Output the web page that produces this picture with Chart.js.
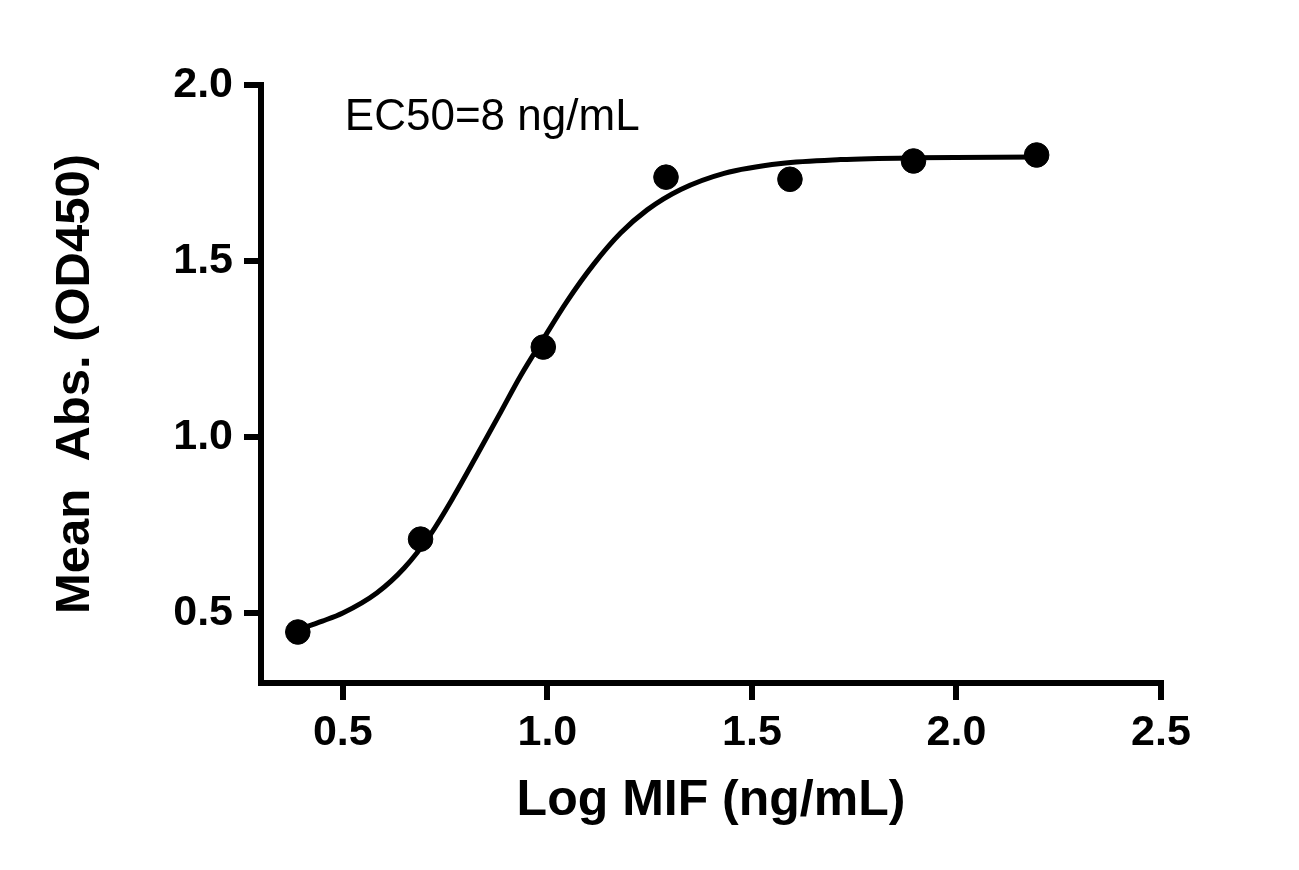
<!DOCTYPE html>
<html>
<head>
<meta charset="utf-8">
<script src="https://cdn.jsdelivr.net/npm/chart.js@4.4.1/dist/chart.umd.min.js"></script>
<style>
html,body{margin:0;padding:0;background:#fff;}
#wrap{width:1299px;height:870px;}
</style>
</head>
<body>
<div id="wrap"><canvas id="c" width="1299" height="870"></canvas></div>
<script>
// Measured data points: log concentration vs mean absorbance
const pointX = [0.39, 0.69, 0.99, 1.29, 1.593, 1.895, 2.196];
const pointY = [0.445, 0.709, 1.255, 1.738, 1.732, 1.784, 1.801];

// Fitted curve
const curveX = [0.39, 0.45, 0.50, 0.583, 0.65, 0.714, 0.771, 0.828, 0.885, 0.934, 0.99, 1.048, 1.113, 1.179, 1.244, 1.326, 1.432, 1.571, 1.717, 1.897, 2.199];
const curveY = [0.452, 0.476, 0.499, 0.556, 0.627, 0.722, 0.830, 0.948, 1.068, 1.172, 1.278, 1.385, 1.490, 1.579, 1.645, 1.703, 1.749, 1.777, 1.788, 1.793, 1.795];

const xTicks = [0.5, 1.0, 1.5, 2.0, 2.5];
const yTicks = [0.5, 1.0, 1.5, 2.0];

const xTitle = 'Log MIF (ng/mL)';
const yTitle = 'Mean  Abs. (OD450)';
const annotationText = 'EC50=8 ng/mL';
const annotationAt = [0.505, 1.872];

const FONT = '"Liberation Sans", Arial, Helvetica, sans-serif';

const annotationPlugin = {
  id: 'ec50text',
  afterDraw(chart) {
    const ctx = chart.ctx;
    const px = chart.scales.x.getPixelForValue(annotationAt[0]);
    const py = chart.scales.y.getPixelForValue(annotationAt[1]);
    ctx.save();
    ctx.font = '44px ' + FONT;
    ctx.fillStyle = '#000';
    ctx.textAlign = 'left';
    ctx.textBaseline = 'alphabetic';
    ctx.fillText(annotationText, px, py);
    ctx.restore();
  }
};

const axisCommon = {
  border: { display: true, color: '#000', width: 6 },
  grid: { drawOnChartArea: false, drawTicks: true, tickLength: 17, lineWidth: 6, color: '#000' }
};

new Chart(document.getElementById('c'), {
  type: 'scatter',
  data: {
    datasets: [
      {
        label: 'points',
        data: pointX.map((x, i) => ({ x: x, y: pointY[i] })),
        backgroundColor: '#000',
        borderColor: '#000',
        pointRadius: 12.3,
        pointHoverRadius: 12.3,
        showLine: false
      },
      {
        label: 'fit',
        type: 'line',
        data: curveX.map((x, i) => ({ x: x, y: curveY[i] })),
        borderColor: '#000',
        borderWidth: 5,
        pointRadius: 0,
        fill: false,
        cubicInterpolationMode: 'monotone'
      }
    ]
  },
  options: {
    responsive: false,
    animation: false,
    devicePixelRatio: 1,
    layout: { padding: { top: 85, right: 138, left: 0, bottom: 0 } },
    plugins: { legend: { display: false }, tooltip: { enabled: false } },
    scales: {
      x: {
        type: 'linear',
        min: 0.3,
        max: 2.5,
        ...axisCommon,
        afterFit(s) { s.height = 870 - 683; },
        afterBuildTicks(s) { s.ticks = xTicks.map(v => ({ value: v })); },
        ticks: {
          color: '#000',
          padding: 7,
          font: { family: FONT, size: 43, weight: 'bold' },
          callback: v => Number(v).toFixed(1)
        },
        title: {
          display: true,
          text: xTitle,
          color: '#000',
          font: { family: FONT, size: 50, weight: 'bold' },
          padding: { top: 0, bottom: 39 }
        }
      },
      y: {
        type: 'linear',
        min: 0.3,
        max: 2.0,
        ...axisCommon,
        afterFit(s) { s.width = 261; },
        afterBuildTicks(s) { s.ticks = yTicks.map(v => ({ value: v })); },
        ticks: {
          color: '#000',
          padding: 11,
          font: { family: FONT, size: 43, weight: 'bold' },
          callback: v => Number(v).toFixed(1)
        },
        title: {
          display: true,
          text: yTitle,
          color: '#000',
          font: { family: FONT, size: 49, weight: 'bold' },
          padding: { top: 46, bottom: 0 }
        }
      }
    }
  },
  plugins: [annotationPlugin]
});
</script>
</body>
</html>
